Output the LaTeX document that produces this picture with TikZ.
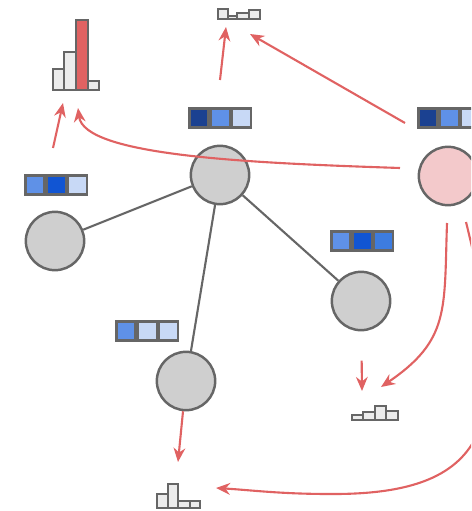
\documentclass[tikz,border=0pt]{standalone}
\usepackage{tikz}
\usetikzlibrary{arrows.meta, positioning}

\definecolor{nodegray}{HTML}{CFCFCF}
\definecolor{linegray}{HTML}{666666}
\definecolor{nodepink}{HTML}{F3C9CB}
\definecolor{arrowred}{HTML}{E06262}
\definecolor{histlight}{HTML}{ECECEC}
\definecolor{fnavy}{HTML}{1B4191}
\definecolor{fmid}{HTML}{5F91E7}
\definecolor{flight}{HTML}{C8D9F6}
\definecolor{fbright}{HTML}{1155D3}
\definecolor{fsky}{HTML}{3D7CE0}

\tikzset{
    graphnode/.style={circle, draw=linegray, line width=2.1pt, fill=nodegray, minimum size=1.75cm, inner sep=0pt},
    graphedge/.style={draw=linegray, line width=1.8pt},
    msg/.style={draw=arrowred, line width=1.8pt, -{Stealth[length=12pt, width=10pt]}},
    featcell/.style={rectangle, draw=linegray, line width=1.8pt, minimum width=0.57cm, minimum height=0.57cm, inner sep=0pt},
    histbar/.style={draw=linegray, line width=1.6pt, fill=histlight},
}

% three cells of a feature vector, left cell centred at #2
\newcommand{\featvec}[5]{
    \node[featcell, fill=#3] (#1a) at #2 {};
    \node[featcell, fill=#4, right=0pt of #1a] (#1b) {};
    \node[featcell, fill=#5, right=0pt of #1b] (#1c) {};
}

\begin{document}
\begin{tikzpicture}[x=0.03cm, y=-0.03cm]
    \clip (0,0) rectangle (471,511);
    \useasboundingbox (0,0) rectangle (471,511);

    % graph
    \node[graphnode] (center) at (220,175) {};
    \node[graphnode] (left) at (55,241) {};
    \node[graphnode] (bottom) at (186,381) {};
    \node[graphnode] (lower) at (361,301) {};
    \node[graphnode, fill=nodepink] (target) at (448,176) {};
    \draw[graphedge] (center) -- (left);
    \draw[graphedge] (center) -- (bottom);
    \draw[graphedge] (center) -- (lower);

    % feature vectors
    \featvec{fc}{(199,118)}{fnavy}{fmid}{flight}
    \featvec{fl}{(35,185)}{fmid}{fbright}{flight}
    \featvec{ft}{(428,118)}{fnavy}{fmid}{flight}
    \featvec{fw}{(341,241)}{fmid}{fbright}{fsky}
    \featvec{fb}{(126,331)}{fmid}{flight}{flight}

    % output histograms
    \foreach \a/\b/\t in {53/64/69, 64/76/52, 88/99/81}
        \filldraw[histbar] (\a,90) rectangle (\b,\t);
    \filldraw[histbar, fill=arrowred] (76,90) rectangle (88,20);
    \foreach \a/\b/\t in {218/228/9, 228/237/16, 237/249/13, 249/260/10}
        \filldraw[histbar] (\a,19) rectangle (\b,\t);
    \foreach \a/\b/\t in {352/363/415, 363/375/412, 375/386/406, 386/398/411}
        \filldraw[histbar] (\a,420) rectangle (\b,\t);
    \foreach \a/\b/\t in {157/168/494, 168/178/484, 178/190/501, 190/200/501}
        \filldraw[histbar] (\a,508) rectangle (\b,\t);

    \coordinate (hl) at (63,103);
    \coordinate (hc) at (226,27);
    \coordinate (hc2) at (250,34);
    \coordinate (hl2) at (78,108);
    \coordinate (hw) at (362,391);
    \coordinate (hw2) at (381,387);
    \coordinate (hb) at (178,462);
    \coordinate (hb2) at (216,488);
    \coordinate (sl) at (53,148);
    \coordinate (sc) at (220,80);
    \coordinate (st) at (405,123);
    \coordinate (sr) at (400,168);

    % messages
    \draw[msg] (sl) -- (hl);
    \draw[msg] (sc) -- (hc);
    \draw[msg] (st) -- (hc2);
    \draw[msg] (sr) .. controls (250,163) and (84,156) .. (hl2);
    \draw[msg] (bottom) -- (hb);
    \draw[msg, shorten <=25pt] (lower) -- (hw);
    \draw[msg] (447,223) .. controls (444,310) and (450,340) .. (hw2);
    \draw[msg] (466,222) .. controls (515,420) and (495,495) .. (330,494)
        .. controls (280,494) and (250,490) .. (hb2);
\end{tikzpicture}
\end{document}
